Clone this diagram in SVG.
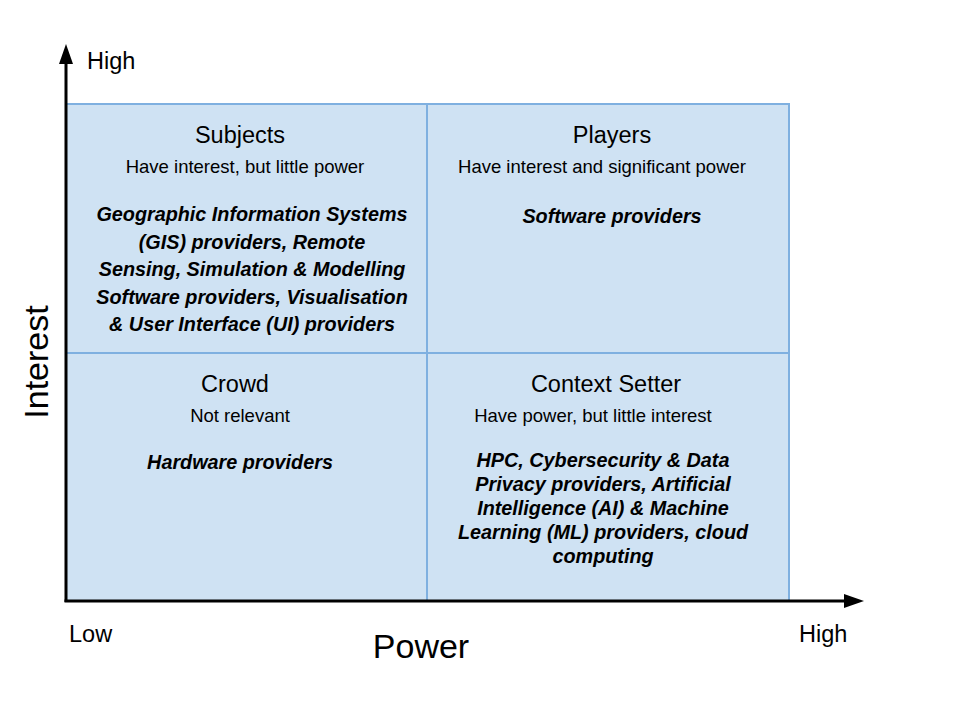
<svg xmlns="http://www.w3.org/2000/svg" width="960" height="720" viewBox="0 0 960 720">
<style>
text{font-family:"Liberation Sans",Arial,sans-serif;fill:#000}
.q{fill:#cfe2f3;stroke:#7fb0e0;stroke-width:2}
.t{font-size:23.5px;text-anchor:middle}
.s{font-size:18.5px;text-anchor:middle}
.b{font-size:19.8px;font-weight:bold;font-style:italic;text-anchor:middle}
.ax{font-size:23.5px}
.big{font-size:34px}
.axis{stroke:#000;stroke-width:3;fill:none}
</style>
<defs>
<marker id="ah" markerWidth="20" markerHeight="14" refX="2" refY="7" orient="auto" markerUnits="userSpaceOnUse" viewBox="0 0 20 14">
<path d="M0,0 L20,7 L0,14 Z" fill="#000"/>
</marker>
</defs>
<rect width="960" height="720" fill="#fff"/>
<g id="subjects">
<rect class="q" x="66" y="104" width="361" height="249"/>
<text class="t" x="240" y="143">Subjects</text>
<text class="s" x="245" y="173">Have interest, but little power</text>
<text class="b" x="252" y="221">Geographic Information Systems</text>
<text class="b" x="252" y="249">(GIS) providers, Remote</text>
<text class="b" x="252" y="276">Sensing, Simulation &amp; Modelling</text>
<text class="b" x="252" y="304">Software providers, Visualisation</text>
<text class="b" x="252" y="331">&amp; User Interface (UI) providers</text>
</g>
<g id="players">
<rect class="q" x="427" y="104" width="362" height="249"/>
<text class="t" x="612" y="143">Players</text>
<text class="s" x="602" y="173">Have interest and significant power</text>
<text class="b" x="612" y="223">Software providers</text>
</g>
<g id="crowd">
<rect class="q" x="66" y="353" width="361" height="248"/>
<text class="t" x="235" y="392">Crowd</text>
<text class="s" x="240" y="422">Not relevant</text>
<text class="b" x="240" y="469">Hardware providers</text>
</g>
<g id="context-setter">
<rect class="q" x="427" y="353" width="362" height="248"/>
<text class="t" x="606" y="392">Context Setter</text>
<text class="s" x="593" y="422">Have power, but little interest</text>
<text class="b" x="603" y="467">HPC, Cybersecurity &amp; Data</text>
<text class="b" x="603" y="491">Privacy providers, Artificial</text>
<text class="b" x="603" y="515">Intelligence (AI) &amp; Machine</text>
<text class="b" x="603" y="539">Learning (ML) providers, cloud</text>
<text class="b" x="603" y="563">computing</text>
</g>
<g id="connectors">
<line class="axis" x1="66" y1="602" x2="66" y2="62" marker-end="url(#ah)"/>
<line class="axis" x1="64.5" y1="601" x2="846" y2="601" marker-end="url(#ah)"/>
</g>
<g id="labels">
<text class="ax" x="87" y="69">High</text>
<text class="ax" x="69" y="642">Low</text>
<text class="ax" x="799" y="642">High</text>
<text class="big" x="421" y="658" text-anchor="middle">Power</text>
<text class="big" x="0" y="0" text-anchor="middle" transform="translate(48,362) rotate(-90)">Interest</text>
</g>
</svg>
